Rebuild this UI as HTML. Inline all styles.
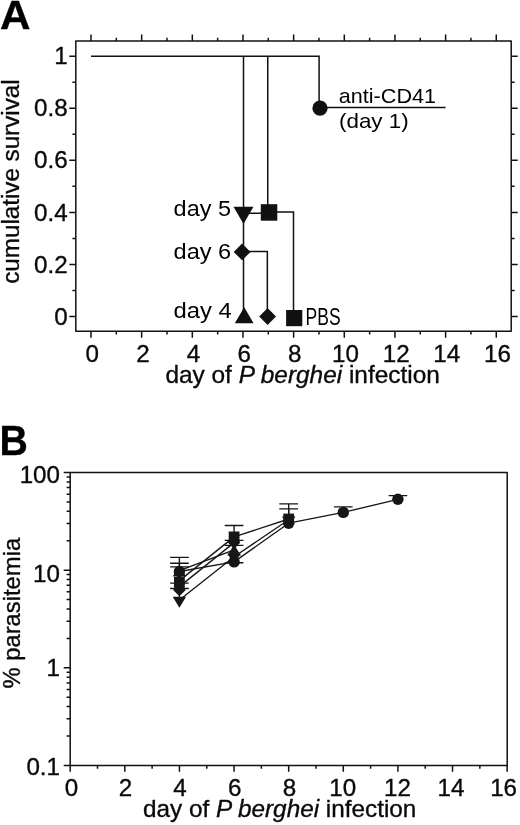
<!DOCTYPE html>
<html><head><meta charset="utf-8"><title>Figure</title>
<style>
html,body{margin:0;padding:0;background:#fff;}
body{width:520px;height:825px;overflow:hidden;font-family:"Liberation Sans",sans-serif;}
svg{display:block;will-change:transform;filter:grayscale(1);}
</style></head><body>
<svg width="520" height="825" viewBox="0 0 520 825">
<rect width="520" height="825" fill="#fff"/>
<g font-family="Liberation Sans, sans-serif" fill="#0a0a0a" stroke="#0a0a0a" stroke-width="0.35" stroke-linejoin="round">
<text transform="translate(0.0,29.4) scale(1.03,1)" font-size="41" font-weight="bold" fill="#000">A</text>
<text transform="translate(-0.4,455.0) scale(0.94,1)" font-size="41.8" font-weight="bold" fill="#000">B</text>
<g stroke="#111" stroke-width="1.5" fill="none" stroke-linecap="butt">
<rect x="75.8" y="41.1" width="435.4" height="290.09999999999997"/>
<path d="M91.00 41.1v-6.5M91.00 331.2v6.5M116.33 41.1v-3.4M116.33 331.2v3.4M141.66 41.1v-6.5M141.66 331.2v6.5M166.99 41.1v-3.4M166.99 331.2v3.4M192.32 41.1v-6.5M192.32 331.2v6.5M217.65 41.1v-3.4M217.65 331.2v3.4M242.98 41.1v-6.5M242.98 331.2v6.5M268.31 41.1v-3.4M268.31 331.2v3.4M293.64 41.1v-6.5M293.64 331.2v6.5M318.97 41.1v-3.4M318.97 331.2v3.4M344.30 41.1v-6.5M344.30 331.2v6.5M369.63 41.1v-3.4M369.63 331.2v3.4M394.96 41.1v-6.5M394.96 331.2v6.5M420.29 41.1v-3.4M420.29 331.2v3.4M445.62 41.1v-6.5M445.62 331.2v6.5M470.95 41.1v-3.4M470.95 331.2v3.4M496.28 41.1v-6.5M496.28 331.2v6.5M75.8 316.50h-6.5M511.2 316.50h6.5M75.8 290.47h-3.4M511.2 290.47h3.4M75.8 264.44h-6.5M511.2 264.44h6.5M75.8 238.41h-3.4M511.2 238.41h3.4M75.8 212.38h-6.5M511.2 212.38h6.5M75.8 186.35h-3.4M511.2 186.35h3.4M75.8 160.32h-6.5M511.2 160.32h6.5M75.8 134.29h-3.4M511.2 134.29h3.4M75.8 108.26h-6.5M511.2 108.26h6.5M75.8 82.23h-3.4M511.2 82.23h3.4M75.8 56.20h-6.5M511.2 56.20h6.5"/>
</g>
<text x="67.6" y="324.6" font-size="24.2" text-anchor="end">0</text>
<text x="67.6" y="272.5" font-size="24.2" text-anchor="end">0.2</text>
<text x="67.6" y="220.5" font-size="24.2" text-anchor="end">0.4</text>
<text x="67.6" y="168.4" font-size="24.2" text-anchor="end">0.6</text>
<text x="67.6" y="116.4" font-size="24.2" text-anchor="end">0.8</text>
<text x="67.6" y="64.3" font-size="24.2" text-anchor="end">1</text>
<text x="92.2" y="361.7" font-size="24.2" text-anchor="middle">0</text>
<text x="142.9" y="361.7" font-size="24.2" text-anchor="middle">2</text>
<text x="193.5" y="361.7" font-size="24.2" text-anchor="middle">4</text>
<text x="244.2" y="361.7" font-size="24.2" text-anchor="middle">6</text>
<text x="294.8" y="361.7" font-size="24.2" text-anchor="middle">8</text>
<text x="345.5" y="361.7" font-size="24.2" text-anchor="middle">10</text>
<text x="396.2" y="361.7" font-size="24.2" text-anchor="middle">12</text>
<text x="446.8" y="361.7" font-size="24.2" text-anchor="middle">14</text>
<text x="497.5" y="361.7" font-size="24.2" text-anchor="middle">16</text>
<text x="165.4" y="382.6" font-size="24.4">day of <tspan font-style="italic">P berghei</tspan> infection</text>
<text transform="translate(18.9,181.6) rotate(-90)" font-size="24.2" text-anchor="middle">cumulative survival</text>
<g stroke="#111" stroke-width="1.5" fill="none" stroke-linejoin="miter">
<path d="M91.0 56.3H319.1V107.6H445.6"/>
<path d="M243.5 56.3V316.5"/>
<path d="M267.75 56.3V212"/>
<path d="M243.5 213.3H269M269 212H293.5V316.5"/>
<path d="M243.5 251.6H267.35V316.5"/>
</g>
<g fill="#111" stroke="none">
<circle cx="320.0" cy="108.2" r="7.6"/>
<path d="M233.5 206.7H253.5L243.5 224.1Z"/>
<rect x="260.8" y="204.2" width="16.5" height="16.5"/>
<path d="M242.1 243.5L250.5 251.9L242.1 260.3L233.7 251.9Z"/>
<path d="M234.8 323.2H253.6L244.2 307.2Z"/>
<path d="M267.6 308.1L276.0 316.5L267.6 324.9L259.2 316.5Z"/>
<rect x="286.1" y="310.0" width="16.2" height="16.2"/>
</g>
<text x="173.6" y="215.6" font-size="21.2" textLength="57.4" lengthAdjust="spacingAndGlyphs" fill="#000" stroke="none">day 5</text>
<text x="173.6" y="258.5" font-size="21.2" textLength="57.6" lengthAdjust="spacingAndGlyphs" fill="#000" stroke="none">day 6</text>
<text x="173.6" y="318.1" font-size="21.2" textLength="58.2" lengthAdjust="spacingAndGlyphs" fill="#000" stroke="none">day 4</text>
<text x="338.8" y="102.8" font-size="20.2" textLength="97.2" lengthAdjust="spacingAndGlyphs" fill="#000" stroke="none">anti-CD41</text>
<text x="339" y="128.3" font-size="20.4" textLength="69.6" lengthAdjust="spacingAndGlyphs" fill="#000" stroke="none">(day 1)</text>
<text x="305.6" y="324.6" font-size="23.3" textLength="35" lengthAdjust="spacingAndGlyphs" fill="#000" stroke="none">PBS</text>
<g stroke="#111" stroke-width="1.5" fill="none">
<rect x="70.2" y="472.5" width="437.0" height="292.9"/>
<path d="M70.20 765.4v6.4M97.51 765.4v3.4M124.82 765.4v6.4M152.13 765.4v3.4M179.44 765.4v6.4M206.75 765.4v3.4M234.06 765.4v6.4M261.37 765.4v3.4M288.68 765.4v6.4M315.99 765.4v3.4M343.30 765.4v6.4M370.61 765.4v3.4M397.92 765.4v6.4M425.23 765.4v3.4M452.54 765.4v6.4M479.85 765.4v3.4M507.16 765.4v6.4M70.2 765.40h-6.5M70.2 736.01h-3.6M70.2 718.82h-3.6M70.2 706.62h-3.6M70.2 697.16h-3.6M70.2 689.43h-3.6M70.2 682.89h-3.6M70.2 677.23h-3.6M70.2 672.23h-3.6M70.2 667.77h-6.5M70.2 638.38h-3.6M70.2 621.18h-3.6M70.2 608.99h-3.6M70.2 599.52h-3.6M70.2 591.79h-3.6M70.2 585.26h-3.6M70.2 579.59h-3.6M70.2 574.60h-3.6M70.2 570.13h-6.5M70.2 540.74h-3.6M70.2 523.55h-3.6M70.2 511.35h-3.6M70.2 501.89h-3.6M70.2 494.16h-3.6M70.2 487.62h-3.6M70.2 481.96h-3.6M70.2 476.97h-3.6M70.2 472.50h-6.5"/>
</g>
<text x="60.0" y="482.8" font-size="24.2" text-anchor="end">100</text>
<text x="60.0" y="581.9" font-size="24.2" text-anchor="end">10</text>
<text x="60.0" y="676.2" font-size="24.2" text-anchor="end">1</text>
<text x="60.0" y="775" font-size="24.2" text-anchor="end">0.1</text>
<text x="71.6" y="796.2" font-size="24.2" text-anchor="middle">0</text>
<text x="125.5" y="796.2" font-size="24.2" text-anchor="middle">2</text>
<text x="180.1" y="796.2" font-size="24.2" text-anchor="middle">4</text>
<text x="234.8" y="796.2" font-size="24.2" text-anchor="middle">6</text>
<text x="289.4" y="796.2" font-size="24.2" text-anchor="middle">8</text>
<text x="342.7" y="796.2" font-size="24.2" text-anchor="middle">10</text>
<text x="397.5" y="796.2" font-size="24.2" text-anchor="middle">12</text>
<text x="450.9" y="796.2" font-size="24.2" text-anchor="middle">14</text>
<text x="503.6" y="796.2" font-size="24.2" text-anchor="middle">16</text>
<text x="143" y="816.9" font-size="24.3">day of <tspan font-style="italic">P berghei</tspan> infection</text>
<text transform="translate(20.3,613.2) rotate(-90)" font-size="23.8" text-anchor="middle">% parasitemia</text>
<g stroke="#161616" stroke-width="1.35" fill="none">
<path d="M179.4 571.5L234.1 561.9L288.7 523.2L343.3 512.4L397.9 499.3"/>
<path d="M179.4 580.6L234.1 536.9L288.7 519.0"/>
<path d="M179.4 586.6L234.1 542.6"/>
<path d="M179.4 570.6L234.1 549.8"/>
<path d="M179.4 600.0L234.1 556.7L288.7 519.8"/>
<path d="M170.1 557.3h18.7M179.4 557.3V571"/>
<path d="M170.1 563.2h18.7M179.4 563.2V571"/>
<path d="M170.1 566.9h18.7M179.4 566.9V571"/>
<path d="M170.1 583.1h18.7M179.4 583.1V590"/>
<path d="M170.1 588.5h18.7M179.4 588.5V600"/>
<path d="M224.7 525.5h18.7M234.1 525.5V537"/>
<path d="M224.7 540.4h18.7M234.1 540.4V550"/>
<path d="M224.7 545.4h18.7M234.1 545.4V556"/>
<path d="M224.7 562.7h18.7M234.1 562.7V563"/>
<path d="M279.3 503.9h18.7M288.7 503.9V519"/>
<path d="M279.3 508.8h18.7M288.7 508.8V523"/>
<path d="M333.9 506.8h18.7M343.3 506.8V512"/>
<path d="M388.6 495.6h18.7M397.9 495.6V499"/>
</g>
<g fill="#161616" stroke="none">
<circle cx="179.4" cy="571.5" r="5.7"/>
<circle cx="234.1" cy="561.9" r="5.7"/>
<circle cx="288.7" cy="523.2" r="5.7"/>
<circle cx="343.3" cy="512.4" r="5.7"/>
<circle cx="397.9" cy="499.3" r="5.7"/>
<rect x="174.0" y="577.0" width="10.8" height="10.8"/>
<rect x="228.7" y="531.5" width="10.8" height="10.8"/>
<rect x="283.3" y="513.6" width="10.8" height="10.8"/>
<path d="M179.4 583.6L185.7 589.9L179.4 596.2L173.1 589.9Z"/>
<path d="M234.1 536.3L240.4 542.6L234.1 548.9L227.8 542.6Z"/>
<path d="M172.7 576.4H186.1L179.4 565.4Z"/>
<path d="M227.4 555.6H240.8L234.1 544.6Z"/>
<path d="M172.7 596.8H186.1L179.4 607.8Z"/>
<path d="M227.4 553.5H240.8L234.1 564.5Z"/>
<path d="M282.0 516.6H295.4L288.7 527.6Z"/>
</g>
</g></svg>
</body></html>
